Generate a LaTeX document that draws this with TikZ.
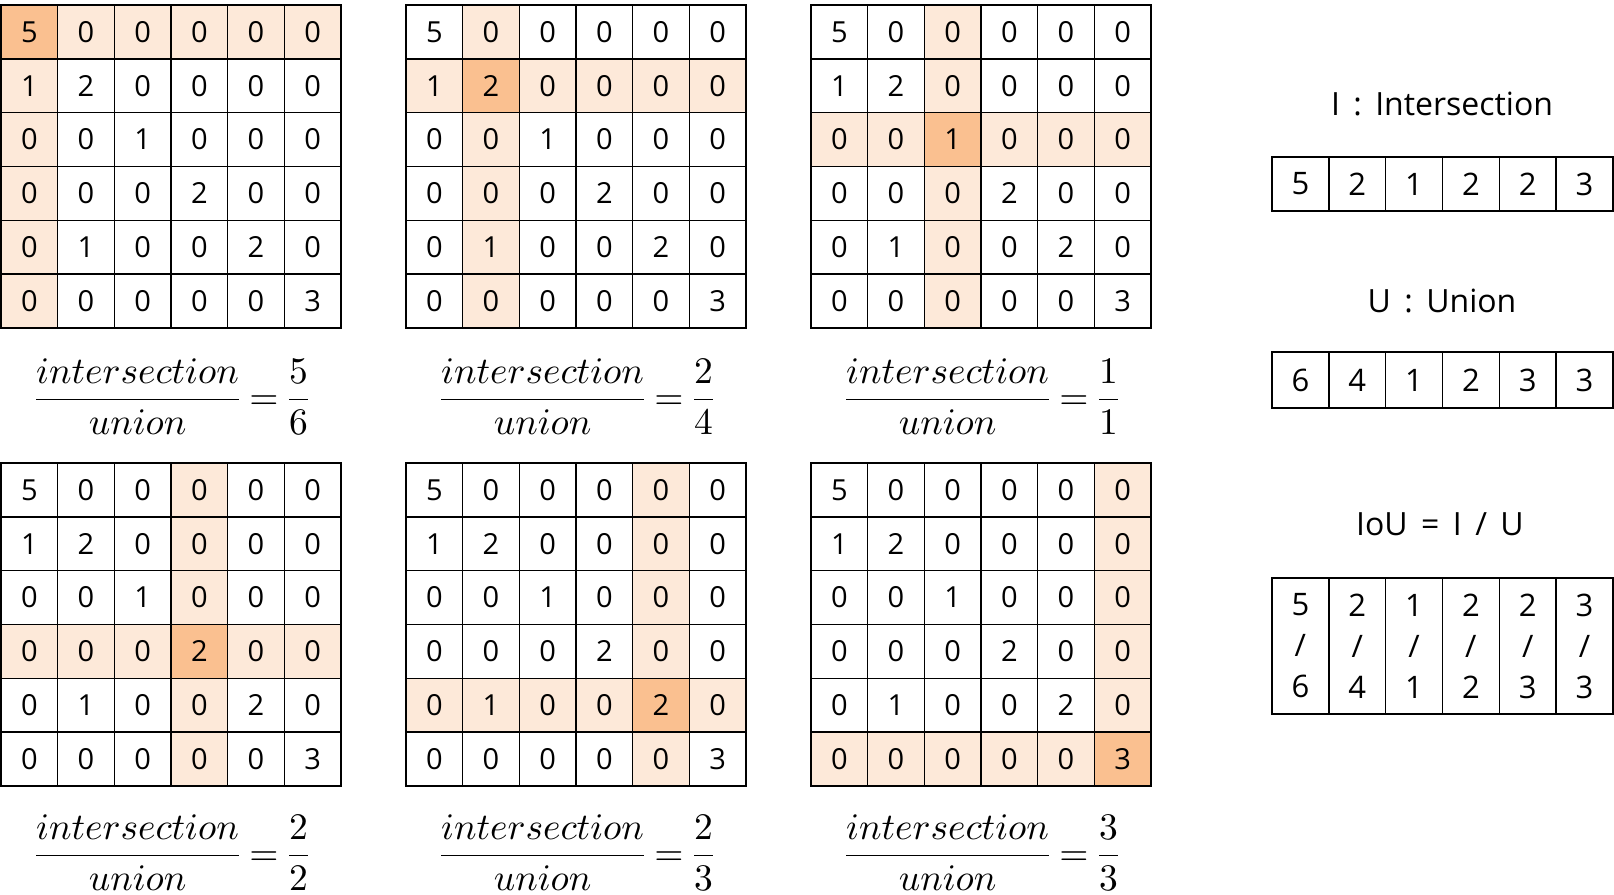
\documentclass[tikz,border=0pt]{standalone}
\usepackage{amsmath}
\usepackage[no-math]{fontspec}
\setmainfont{Open Sans}
\definecolor{lightor}{HTML}{FDE9D9}
\definecolor{darkor}{HTML}{FAC090}
\tikzset{
  cell/.style={draw=black, line width=1.5pt, minimum width=56.67pt, minimum height=53.83pt,
    inner sep=0pt, font=\fontsize{29}{29}\selectfont},
  arrcell/.style={draw=black, line width=1.5pt, minimum width=56.83pt, minimum height=54pt,
    inner sep=0pt, font=\fontsize{31}{31}\selectfont},
  tallcell/.style={arrcell, minimum height=136pt, align=center,
    font=\fontsize{31}{41}\selectfont},
  title/.style={anchor=base, inner sep=0pt, font=\fontsize{32}{32}\selectfont},
  fracnode/.style={anchor=base, inner sep=0pt, font=\fontsize{10}{10}\selectfont}
}
\newcommand{\iouexpr}[2]{\scalebox{3.75}{$\nulldelimiterspace=0pt\thickmuskip=5mu\dfrac{intersection}{union}=\dfrac{#1}{#2}$}}
\newcommand{\gap}{\hspace{0.42em}}
\begin{document}
\begin{tikzpicture}[x=1pt,y=-1pt]
\useasboundingbox (0,0) rectangle (1614,894);
\foreach \k/\gx/\gy/\fy/\num/\den in {0/1/5/409/5/6, 1/406/5/409/2/4, 2/811/5/409/1/1, 3/1/463/865/2/2, 4/406/463/865/2/3, 5/811/463/865/3/3} {
  \foreach \row [count=\r from 0] in {{5,0,0,0,0,0},{1,2,0,0,0,0},{0,0,1,0,0,0},{0,0,0,2,0,0},{0,1,0,0,2,0},{0,0,0,0,0,3}} {
    \foreach \v [count=\c from 0] in \row {
      \pgfmathtruncatemacro\t{(\r==\k)+(\c==\k)}
      \ifcase\t \def\fc{white}\or \def\fc{lightor}\or \def\fc{darkor}\fi
      \node[cell, fill=\fc] (g\k-\r-\c) at (\gx+28.33+56.67*\c, \gy+26.92+53.83*\r) {\v};
    }
  }
  \node[fracnode] (f\k) at (\gx+171, \fy) {\iouexpr{\num}{\den}};
}
% right side
\node[title] (ilabel) at (1442,115) {I\gap:\gap Intersection};
\node[title] (ulabel) at (1442,312) {U\gap:\gap Union};
\node[title] (ioulabel) at (1440,535) {IoU\gap=\gap I\gap/\gap U};
\foreach \v [count=\c from 0] in {5,2,1,2,2,3} {
  \node[arrcell] (ia-\c) at (1272+28.42+56.83*\c, 184) {\v};
}
\foreach \v [count=\c from 0] in {6,4,1,2,3,3} {
  \node[arrcell, minimum height=56pt] (ua-\c) at (1272+28.42+56.83*\c, 380) {\v};
}
\foreach \a/\b [count=\c from 0] in {5/6,2/4,1/1,2/2,2/3,3/3} {
  \node[tallcell] (iou-\c) at (1272+28.42+56.83*\c, 646) {\a\\/\\\b};
}
\end{tikzpicture}
\end{document}
